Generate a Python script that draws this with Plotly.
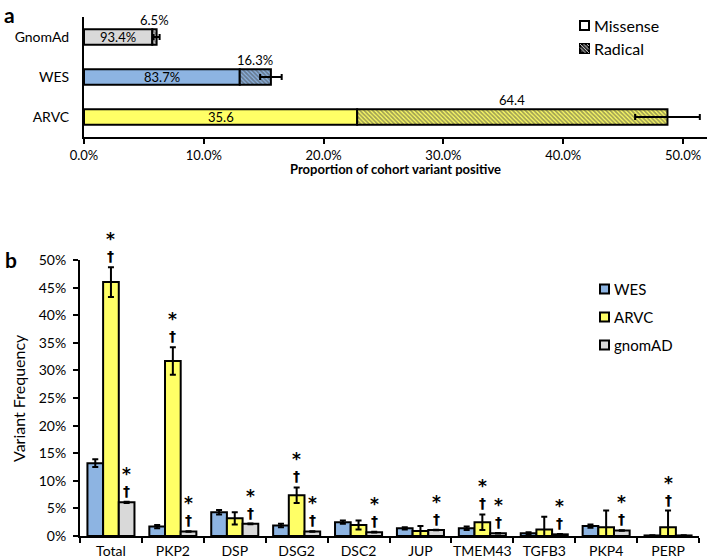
import plotly.graph_objects as go

# ---------------- Panel a data ----------------
cohorts_a = ["ARVC", "WES", "GnomAd"]
missense_a = [22.8, 13.0, 5.7]        # % of cohort (missense part)
radical_a = [25.9, 2.6, 0.36]         # % of cohort (radical part)
err_a = [2.7, 0.9, 0.25]
missense_lbl = ["35.6", "83.7%", "93.4%"]
radical_lbl = ["64.4", "16.3%", "6.5%"]
colors_a = ["#FFFF66", "#8DB4E2", "#D9D9D9"]

# ---------------- Panel b data ----------------
genes = ["Total", "PKP2", "DSP", "DSG2", "DSC2", "JUP", "TMEM43", "TGFB3", "PKP4", "PERP"]
wes = [13.2, 1.7, 4.3, 1.9, 2.5, 1.4, 1.4, 0.5, 1.8, 0.1]
wes_err = [0.7, 0.3, 0.4, 0.3, 0.3, 0.2, 0.3, 0.2, 0.3, 0.05]
arvc = [46.0, 31.7, 3.2, 7.4, 2.0, 0.9, 2.5, 1.2, 1.6, 1.6]
arvc_err = [2.7, 2.5, 1.1, 1.4, 0.8, 0.9, 1.4, 2.3, 3.0, 3.0]
gnomad = [6.1, 0.8, 2.2, 0.8, 0.7, 1.1, 0.5, 0.3, 1.0, 0.1]
gnomad_err = [0.1, 0.05, 0.05, 0.05, 0.05, 0.05, 0.05, 0.05, 0.05, 0.02]
sig_arvc = [True, True, False, True, False, False, True, False, False, True]
sig_gnomad = [True, True, True, True, True, True, True, True, True, False]

FONT = "Lato, Carlito, Calibri, sans-serif"
SYM = "DejaVu Sans, sans-serif"
W, H = 709, 560

fig = go.Figure()

# Panel a bars
fig.add_trace(go.Bar(
    y=cohorts_a, x=missense_a, orientation="h", xaxis="x", yaxis="y",
    offsetgroup="a",
    marker=dict(color=colors_a, line=dict(color="black", width=2)),
    width=0.39, showlegend=False, hoverinfo="skip"))
fig.add_trace(go.Bar(
    y=cohorts_a, x=radical_a, base=missense_a, orientation="h", xaxis="x", yaxis="y",
    offsetgroup="a",
    marker=dict(color=colors_a, line=dict(color="black", width=2),
                pattern=dict(shape="\\", fgcolor="#1a1a1a", size=3, solidity=0.6,
                             fillmode="overlay")),
    width=0.39, showlegend=False, hoverinfo="skip"))
totals_a = [m + r for m, r in zip(missense_a, radical_a)]
fig.add_trace(go.Scatter(
    y=cohorts_a, x=totals_a, mode="markers", xaxis="x", yaxis="y",
    marker=dict(size=1, opacity=0),
    error_x=dict(type="data", array=err_a, color="black", thickness=2, width=3),
    showlegend=False, hoverinfo="skip"))

# Panel b bars
for name, vals, errs, col in [("WES", wes, wes_err, "#8DB4E2"),
                              ("ARVC", arvc, arvc_err, "#FFFF66"),
                              ("gnomAD", gnomad, gnomad_err, "#D9D9D9")]:
    fig.add_trace(go.Bar(
        x=genes, y=vals, name=name, xaxis="x2", yaxis="y2", offsetgroup=name,
        marker=dict(color=col, line=dict(color="black", width=2)),
        error_y=dict(type="data", array=errs, color="black", thickness=2, width=3),
        showlegend=False, hoverinfo="skip"))

ann = []
# Panel a labels
for i, c in enumerate(cohorts_a):
    ann.append(dict(x=missense_a[i] / 2, y=c, xref="x", yref="y", text=missense_lbl[i],
                    showarrow=False, font=dict(size=13, color="black", family=FONT)))
    ann.append(dict(x=missense_a[i] + radical_a[i] / 2, y=c, xref="x", yref="y",
                    text=radical_lbl[i], showarrow=False, yshift=17,
                    font=dict(size=13, color="black", family=FONT)))

# Panel b significance marks (asterisk over dagger)
bw = 0.76 / 3
for i, g in enumerate(genes):
    for flag, off, v, e in [(sig_arvc[i], 0.0, arvc[i], arvc_err[i]),
                            (sig_gnomad[i], bw, gnomad[i], gnomad_err[i])]:
        if flag:
            top = v + e
            ann.append(dict(x=i + off, y=top, xref="x2", yref="y2",
                            text="<b><span style='font-size:17px'>*</span></b><br>"
                                 "<b><span style='font-size:14px'>†</span></b>",
                            showarrow=False, yanchor="bottom", yshift=2,
                            borderpad=0,
                            font=dict(size=12, color="#000000", family=SYM)))

# Panel letters
ann.append(dict(x=2 / W, y=1, xref="paper", yref="paper", text="<b>a</b>",
                showarrow=False, xanchor="left", yanchor="top",
                font=dict(size=21, color="black", family=FONT)))
ann.append(dict(x=3 / W, y=1 - 259 / H, xref="paper", yref="paper", text="<b>b</b>",
                showarrow=False, xanchor="left", yanchor="middle",
                font=dict(size=21, color="black", family=FONT)))
# Axis titles
ann.append(dict(x=395 / W, y=1 - 169 / H, xref="paper", yref="paper",
                text="<b>Proportion of cohort variant positive</b>",
                showarrow=False, xanchor="center", yanchor="middle",
                font=dict(size=13, color="black", family=FONT)))
ann.append(dict(x=18 / W, y=1 - 398 / H, xref="paper", yref="paper",
                text="Variant Frequency", textangle=-90,
                showarrow=False, xanchor="center", yanchor="middle",
                font=dict(size=16, color="black", family=FONT)))

# Manual legends
shapes = []
def legend_item(x0, yc, text, fill, size, hatch=False, fs=15):
    shapes.append(dict(type="rect", xref="paper", yref="paper",
                       x0=x0 / W, x1=(x0 + size) / W,
                       y0=1 - (yc + size / 2) / H, y1=1 - (yc - size / 2) / H,
                       fillcolor=fill, line=dict(color="black", width=2)))
    if hatch:
        for k in range(-1, 3):
            xa = x0 + k * 3.5
            shapes.append(dict(type="line", xref="paper", yref="paper",
                               x0=max(xa, x0) / W, x1=min(xa + size, x0 + size) / W,
                               y0=1 - (yc - size / 2 + max(0, x0 - xa)) / H,
                               y1=1 - (yc - size / 2 + min(size, x0 + size - xa)) / H,
                               line=dict(color="#bbbbbb", width=1)))
    ann.append(dict(x=(x0 + size + 3) / W, y=1 - yc / H, xref="paper", yref="paper",
                    text=text, showarrow=False, xanchor="left", yanchor="middle",
                    font=dict(size=fs, color="black", family=FONT)))

legend_item(580, 25.5, "Missense", "white", 9, fs=16)
legend_item(580, 48.5, "Radical", "#333333", 9, hatch=True, fs=16)
legend_item(600, 289, "WES", "#8DB4E2", 9)
legend_item(600, 317, "ARVC", "#FFFF66", 9)
legend_item(600, 345, "gnomAD", "#D9D9D9", 9)

fig.update_layout(
    width=W, height=H, margin=dict(l=0, r=0, t=0, b=0, autoexpand=False),
    paper_bgcolor="white", plot_bgcolor="white",
    font=dict(family=FONT, size=13, color="black"),
    barmode="group", bargap=0.24, bargroupgap=0,
    annotations=ann, shapes=shapes,
    xaxis=dict(domain=[84 / W, 707 / W], range=[0, 52], anchor="y", automargin=False,
               tickvals=[0, 10, 20, 30, 40, 50],
               ticktext=["0.0%", "10.0%", "20.0%", "30.0%", "40.0%", "50.0%"],
               showline=True, linecolor="black", linewidth=2, ticks="outside",
               ticklen=5, tickwidth=2, tickcolor="black", showgrid=False, zeroline=False,
               tickfont=dict(size=13)),
    yaxis=dict(domain=[1 - 137 / H, 1 - 17 / H], anchor="x", automargin=False,
               categoryorder="array", categoryarray=cohorts_a, range=[-0.5, 2.5],
               showline=True, linecolor="black", linewidth=2, ticks="",
               showgrid=False, zeroline=False, tickfont=dict(size=14), ticklabelstandoff=10),
    xaxis2=dict(domain=[80 / W, 699 / W], anchor="y2", type="category", automargin=False,
                categoryorder="array", categoryarray=genes, range=[-0.5, 9.5],
                showline=True, linecolor="black", linewidth=2, ticks="outside",
                tickson="boundaries", ticklen=5, tickwidth=2, tickcolor="black",
                showgrid=False, zeroline=False, tickfont=dict(size=14), tickangle=0,
                ticklabelstandoff=1),
    yaxis2=dict(domain=[1 - 536 / H, 1 - 260 / H], anchor="x2", range=[0, 50],
                automargin=False,
                tickvals=[0, 5, 10, 15, 20, 25, 30, 35, 40, 45, 50],
                ticktext=[f"{v}%" for v in range(0, 55, 5)],
                showline=True, linecolor="black", linewidth=2, ticks="outside",
                ticklen=5, tickwidth=2, tickcolor="black", showgrid=False, zeroline=False,
                tickfont=dict(size=14), ticklabelstandoff=4),
)

fig.write_html("out.html", config={"displayModeBar": False},
               post_script="document.body.style.margin='0';document.body.style.overflow='hidden';")
